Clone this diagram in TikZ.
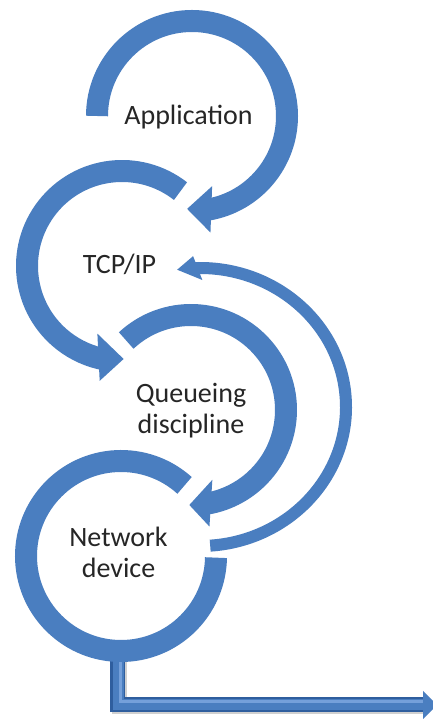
\documentclass[tikz,border=0pt]{standalone}
\usepackage{fontspec}
\setmainfont{Carlito}
\usetikzlibrary{calc}
\definecolor{ringblue}{HTML}{4A7EC0}
\definecolor{txtgray}{HTML}{262626}
\definecolor{bardark}{HTML}{2F5E9E}
\definecolor{barlight}{HTML}{75A0DA}
\definecolor{shadowgray}{HTML}{D0D0D0}
\begin{document}
\begin{tikzpicture}[x=1pt,y=1pt,
  ring/.style={draw=ringblue, line width=22pt, line cap=butt},
  head/.style={fill=ringblue},
  feed/.style={draw=ringblue, line width=12pt, line cap=butt},
  lbl/.style={font=\fontsize{28}{31}\selectfont, text=txtgray, align=center, inner sep=0pt}]
\useasboundingbox (0,0) rectangle (432,720);
\fill[white] (0,0) rectangle (432,720);

% centres of the four rings and of the feedback arc
\coordinate (cA) at (192,604);
\coordinate (cT) at (122,454);
\coordinate (cQ) at (191,310);
\coordinate (cN) at (121,164);
\coordinate (cF) at (200,313);

% output connector below "Network device"
\coordinate (b1) at (117.5,72);
\coordinate (b2) at (117.5,15);
\coordinate (b3) at (424,15);
\coordinate (bt) at (437,15);
\draw[shadowgray, line width=15pt, line join=miter] ($(b1)+(1.5,-2)$) -- ($(b2)+(1.5,-2)$) -- ($(b3)+(0,-2)$);
\draw[bardark, line width=15pt, line join=miter] (b1) -- (b2) -- (b3);
\draw[ringblue, line width=11pt, line join=miter] ($(b1)+(0.5,0)$) -- ($(b2)+(0.5,0.5)$) -- ($(b3)+(0,0.5)$);
\draw[barlight, line width=3pt] ($(b1)+(3,0)$) -- ($(b2)+(3,3.5)$) -- ($(b3)+(0,3.5)$);
\fill[ringblue] ($(b3)+(-1,14)$) -- (bt) -- ($(b3)+(-1,-14)$) -- cycle;

% Application ring (clockwise, arrow at bottom)
\draw[ring] ($(cA)+(180:95)$) arc[start angle=180, end angle=-80, radius=95];
\fill[head] ($(cA)+(-74:73)$) -- ($(cA)+(-81:118)$) -- ($(cA)+(-93:93)$) -- cycle;

% TCP/IP ring (counter-clockwise, arrow at bottom)
\draw[ring] ($(cT)+(52:95)$) arc[start angle=52, end angle=260, radius=95];
\fill[head] ($(cT)+(250:72)$) -- ($(cT)+(259:117)$) -- ($(cT)+(271:93)$) -- cycle;

% Queueing discipline ring (clockwise, arrow at bottom)
\draw[ring] ($(cQ)+(133:95)$) arc[start angle=133, end angle=-80, radius=95];
\fill[head] ($(cQ)+(-73:73)$) -- ($(cQ)+(-81:118)$) -- ($(cQ)+(-91:95)$) -- cycle;

% Network device ring (no arrow)
\draw[ring] ($(cN)+(48:95)$) arc[start angle=48, end angle=359, radius=95];

% feedback arc from Network device back to TCP/IP
\draw[feed] ($(cF)+(-86:146 and 139)$) arc[start angle=-86, end angle=92, x radius=146, y radius=139];
\fill[head] ($(cF)+(89:134 and 127)$) -- ($(cF)+(92.5:158 and 151)$) -- ($(cF)+(99:146 and 139)$) -- cycle;

% labels (multi-line nodes: base anchor = last baseline)
\node[lbl, anchor=base] (app) at (188.5,595.5) {Application};
\node[lbl, anchor=base] (tcp) at (119.5,446) {TCP/IP};
\node[lbl, anchor=base] (que) at (191,286) {Queueing\\discipline};
\node[lbl, anchor=base] (net) at (118.5,142) {Network\\device};
\end{tikzpicture}
\end{document}
